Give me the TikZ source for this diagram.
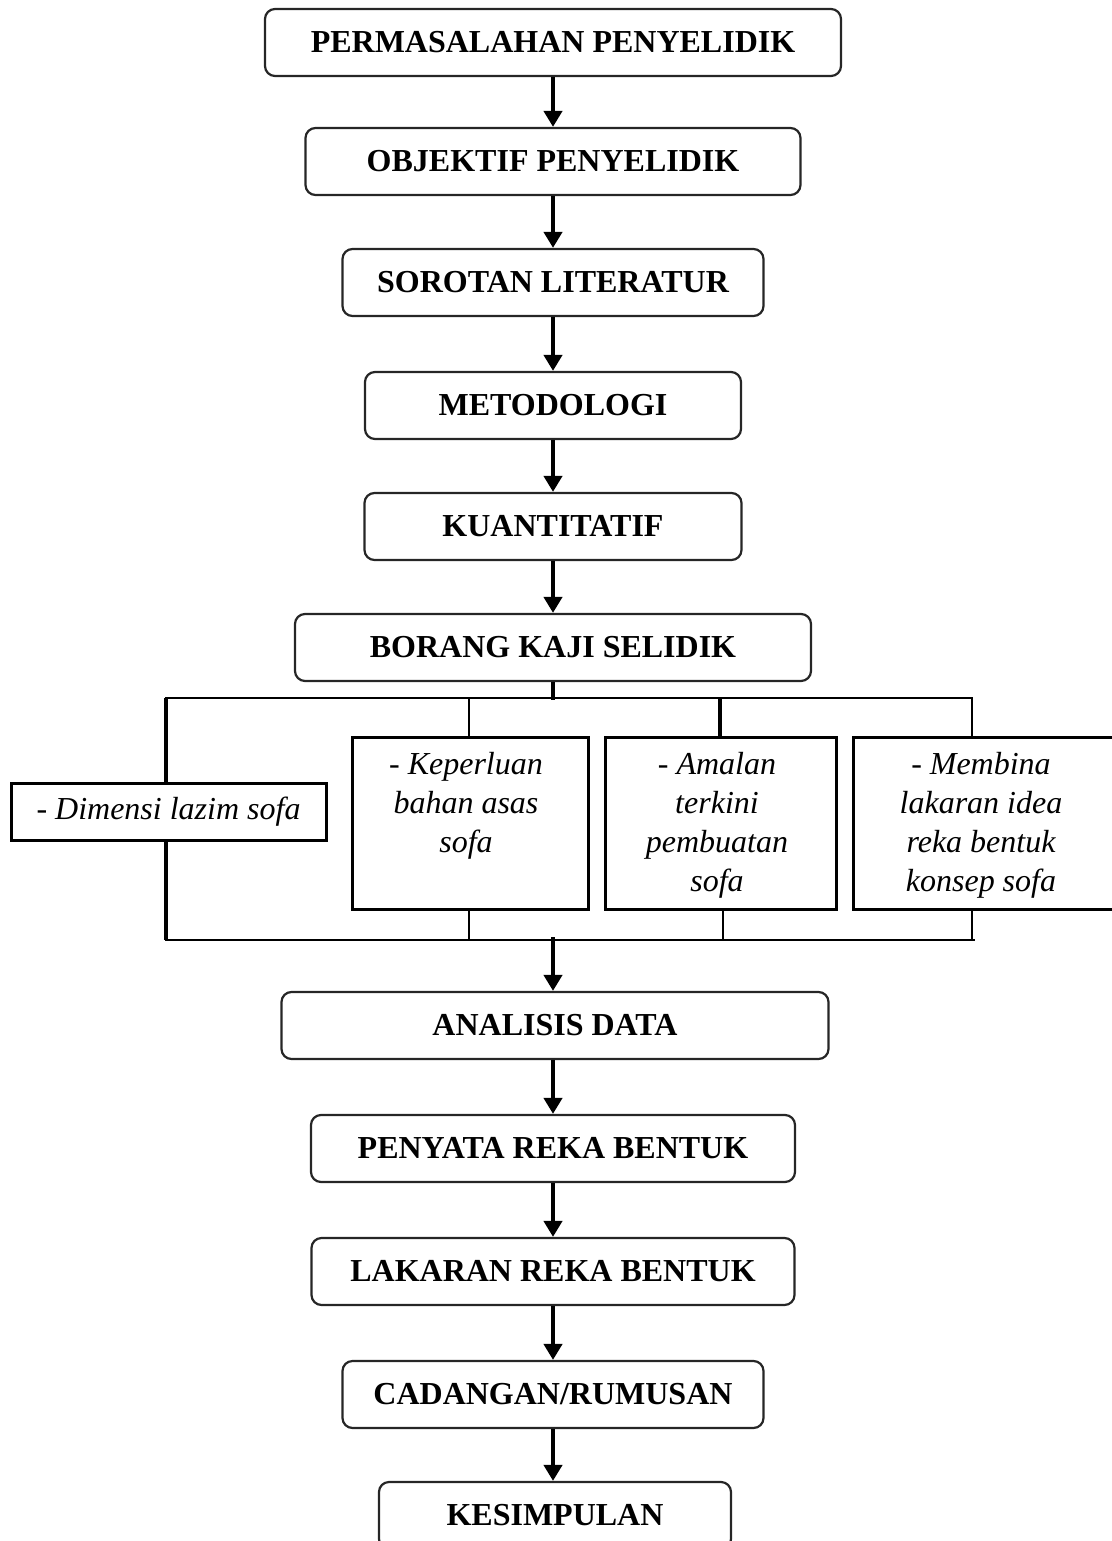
\documentclass[tikz,border=0pt]{standalone}
\usepackage{fontspec}
\setmainfont{Liberation Serif}
\usetikzlibrary{arrows.meta}
\begin{document}
\begin{tikzpicture}[x=0.5pt,y=-0.5pt,
 mainbox/.style={draw=black!85, line width=1.1pt, rounded corners=5pt, minimum height=33.5pt, inner sep=0pt, font=\fontsize{16}{19}\selectfont\bfseries},
 subbox/.style={draw, line width=1.5pt, inner sep=0pt},
 subtext/.style={align=center, inner sep=0pt, font=\fontsize{16}{19.5}\selectfont\itshape},
 flow/.style={line width=2.3pt, -{Triangle[width=9pt,length=8pt]}},
 brk/.style={line width=1.4pt},
 thk/.style={line width=2.2pt}]
\useasboundingbox (0,0) rectangle (1112,1541);
\clip (0,0) rectangle (1112,1541);

% main flow
\node[mainbox, minimum width=288pt]   (n1)  at (553,42.5)   {PERMASALAHAN PENYELIDIK};
\node[mainbox, minimum width=247.5pt] (n2)  at (553,161.5)  {OBJEKTIF PENYELIDIK};
\node[mainbox, minimum width=210.5pt] (n3)  at (553,282.5)  {SOROTAN LITERATUR};
\node[mainbox, minimum width=188pt]   (n4)  at (553,405.5)  {METODOLOGI};
\node[mainbox, minimum width=188.5pt] (n5)  at (553,526.5)  {KUANTITATIF};
\node[mainbox, minimum width=258pt]   (n6)  at (553,647.5)  {BORANG KAJI SELIDIK};
\node[mainbox, minimum width=273.5pt] (n7)  at (555,1025.5) {ANALISIS DATA};
\node[mainbox, minimum width=242pt]   (n8)  at (553,1148.5) {PENYATA REKA BENTUK};
\node[mainbox, minimum width=241.5pt] (n9)  at (553,1271.5) {LAKARAN REKA BENTUK};
\node[mainbox, minimum width=210.5pt] (n10) at (553,1394.5) {CADANGAN/RUMUSAN};
\node[mainbox, minimum width=176pt]   (n11) at (555,1515.5) {KESIMPULAN};

\draw[flow] (n1) -- (n2);
\draw[flow] (n2) -- (n3);
\draw[flow] (n3) -- (n4);
\draw[flow] (n4) -- (n5);
\draw[flow] (n5) -- (n6);
\draw[flow] (n7.south -| n8.south) -- (n8);
\draw[flow] (n8) -- (n9);
\draw[flow] (n9) -- (n10);
\draw[flow] (n10) -- (n11.north -| n10.south);

% sub boxes
\node[subbox, minimum width=157.5pt, minimum height=28.5pt, font=\fontsize{16}{19}\selectfont\itshape] (d) at (168.5,811.5) {- Dimensi lazim sofa};
\node[subbox, minimum width=118pt,  minimum height=86pt] (k) at (470,823) {};
\node[subbox, minimum width=115.5pt,minimum height=86pt] (a) at (720.5,823) {};
\node[subbox, minimum width=131.5pt,minimum height=86pt] (m) at (984.5,823) {};
\node[subtext, anchor=north] (kt) at (466,752) {- Keperluan\\bahan asas\\sofa};
\node[subtext, anchor=north] (at) at (717,752) {- Amalan\\terkini\\pembuatan\\sofa};
\node[subtext, anchor=north] (mt) at (981,752) {- Membina\\lakaran idea\\reka bentuk\\konsep sofa};

% bracket frame
\coordinate (tl) at (165,698);
\coordinate (tr) at (973,698);
\coordinate (bl) at (165,940);
\coordinate (br) at (975,940);
\coordinate (tj) at (553,700);
\coordinate (bj) at (553,937);
\coordinate (kt1) at (469,698);
\coordinate (kb1) at (469,940);
\coordinate (at1) at (720,698);
\coordinate (ab1) at (723,940);
\coordinate (mt1) at (972,698);
\coordinate (mb1) at (972,940);
\coordinate (dl1) at (166,698);
\coordinate (dl2) at (166,940);

\draw[thk] (n6.south) -- (tj);
\draw[brk] (tl) -- (tr);
\draw[brk] (bl) -- (br);
\draw[thk] (dl1) -- (d.north -| dl1);
\draw[thk] (d.south -| dl2) -- (dl2);
\draw[brk] (kt1) -- (k.north -| kt1);
\draw[brk] (k.south -| kb1) -- (kb1);
\draw[thk] (at1) -- (a.north -| at1);
\draw[brk] (a.south -| ab1) -- (ab1);
\draw[brk] (mt1) -- (m.north -| mt1);
\draw[brk] (m.south -| mb1) -- (mb1);
\draw[flow] (bj) -- (bj |- n7.north);
\end{tikzpicture}
\end{document}
